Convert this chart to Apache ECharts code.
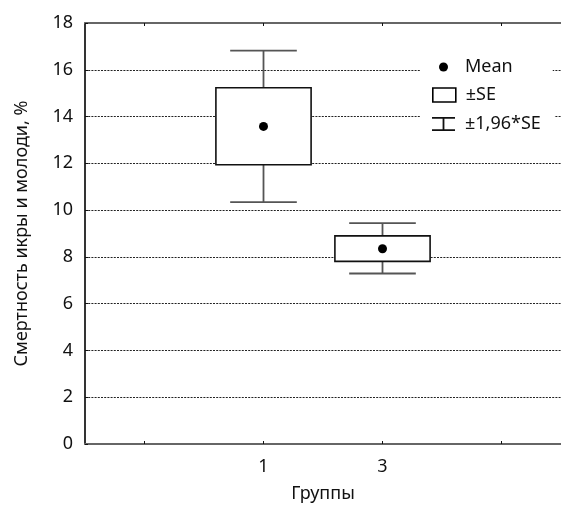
<!DOCTYPE html>
<html>
<head>
<meta charset="utf-8">
<script src="https://cdn.jsdelivr.net/npm/echarts@6/dist/echarts.min.js"></script>
<style>html,body{margin:0;padding:0;background:#fff}#c{width:561px;height:508px}</style>
</head>
<body>
<div id="c"></div>
<script>
const categories = ['', '1', '3', ''];
const groups = ['1', '3'];
const means = [13.58, 8.35];
const seLow = [11.94, 7.81];
const seHigh = [15.23, 8.90];
const ciLow = [10.34, 7.29];
const ciHigh = [16.82, 9.44];
const yTicks = [0, 2, 4, 6, 8, 10, 12, 14, 16, 18];

const FONT = 'Noto Sans';
const TXT = '#111';
const FS = 18;
const chart = echarts.init(document.getElementById('c'), null, {renderer: 'canvas'});

const boxData = groups.map((g, i) => [g, seLow[i], seHigh[i]]);
const ciData = groups.map((g, i) => [g, ciLow[i], ciHigh[i]]);
const meanData = groups.map((g, i) => [g, means[i]]);

const legendText = {fontFamily: FONT, fontSize: FS, color: TXT, padding: [0, 0, 0, 5]};

chart.setOption({
  animation: false,
  backgroundColor: '#fff',
  grid: {left: 85, top: 23, bottom: 60, right: -11, containLabel: false},
  legend: [
    {data: [{name: 'Mean', icon: 'circle'}], orient: 'vertical', left: 420, top: 50,
     itemWidth: 9, itemHeight: 9, padding: [8, 40, 8, 19], backgroundColor: '#fff',
     selectedMode: false, textStyle: Object.assign({}, legendText, {padding: [0, 0, 0, 12]})},
    {data: [{name: '±SE', icon: 'rect', itemStyle: {color: '#fff', borderColor: '#000', borderWidth: 1.6}}],
     orient: 'vertical', left: 420, top: 86, itemWidth: 23, itemHeight: 14,
     padding: [0, 40, 0, 12], selectedMode: false, textStyle: legendText},
    {data: [{name: '±1,96*SE', icon: 'path://M0,0H23V1.8H12.4V12.2H23V14H0V12.2H10.6V1.8H0Z', itemStyle: {color: '#111'}}],
     orient: 'vertical', left: 420, top: 107, itemWidth: 23, itemHeight: 14,
     padding: [8, 14, 8, 12], backgroundColor: '#fff', selectedMode: false, textStyle: legendText}
  ],
  xAxis: [
    {type: 'category', data: categories, position: 'bottom', boundaryGap: true,
     name: 'Группы', nameLocation: 'middle', nameGap: 41,
     nameTextStyle: {fontFamily: FONT, fontSize: FS, color: TXT},
     axisLine: {lineStyle: {color: '#666', width: 2}},
     axisTick: {show: true, inside: true, length: 3, alignWithLabel: true, lineStyle: {color: '#111'}},
     axisLabel: {fontFamily: FONT, fontSize: FS, color: TXT, margin: 14, interval: 0},
     splitLine: {show: false}},
    {type: 'category', data: categories, position: 'top', boundaryGap: true,
     axisLine: {lineStyle: {color: '#666', width: 2}},
     axisTick: {show: true, inside: true, length: 3, alignWithLabel: true, lineStyle: {color: '#111'}},
     axisLabel: {show: false}, splitLine: {show: false}}
  ],
  yAxis: {
    type: 'value', min: yTicks[0], max: yTicks[yTicks.length - 1], interval: 2,
    name: 'Смертность икры и молоди, %', nameLocation: 'middle', nameGap: 54,
    nameTextStyle: {fontFamily: FONT, fontSize: FS, color: TXT},
    axisLine: {show: true, lineStyle: {color: '#000', width: 1.6}},
    axisTick: {show: true, inside: true, length: 3, lineStyle: {color: '#111'}},
    axisLabel: {fontFamily: FONT, fontSize: FS, color: TXT, margin: 12},
    splitLine: {show: true, lineStyle: {color: '#222', width: 1, type: [2, 1.2]}}
  },
  series: [
    {
      name: '±1,96*SE', type: 'custom', z: 2,
      itemStyle: {color: '#111'},
      data: ciData,
      renderItem: function (params, api) {
        const xi = api.value(0);
        const lo = api.coord([xi, api.value(1)]);
        const hi = api.coord([xi, api.value(2)]);
        const w = api.size([1, 0])[0] * 0.56;
        const st = {stroke: '#555', lineWidth: 1.8};
        return {type: 'group', children: [
          {type: 'line', shape: {x1: lo[0], y1: lo[1], x2: hi[0], y2: hi[1]}, style: st},
          {type: 'line', shape: {x1: lo[0] - w / 2, y1: lo[1], x2: lo[0] + w / 2, y2: lo[1]}, style: st},
          {type: 'line', shape: {x1: hi[0] - w / 2, y1: hi[1], x2: hi[0] + w / 2, y2: hi[1]}, style: st}
        ]};
      }
    },
    {
      name: '±SE', type: 'custom', z: 3,
      itemStyle: {color: '#fff', borderColor: '#000', borderWidth: 1.6},
      data: boxData,
      renderItem: function (params, api) {
        const xi = api.value(0);
        const lo = api.coord([xi, api.value(1)]);
        const hi = api.coord([xi, api.value(2)]);
        const w = api.size([1, 0])[0] * 0.8;
        return {type: 'rect', shape: {x: lo[0] - w / 2, y: hi[1], width: w, height: lo[1] - hi[1]},
                style: {fill: '#fff', stroke: '#111', lineWidth: 1.6}};
      }
    },
    {
      name: 'Mean', type: 'scatter', z: 4, symbol: 'circle', symbolSize: 9,
      itemStyle: {color: '#000', opacity: 1}, data: meanData
    }
  ]
});
</script>
</body>
</html>
